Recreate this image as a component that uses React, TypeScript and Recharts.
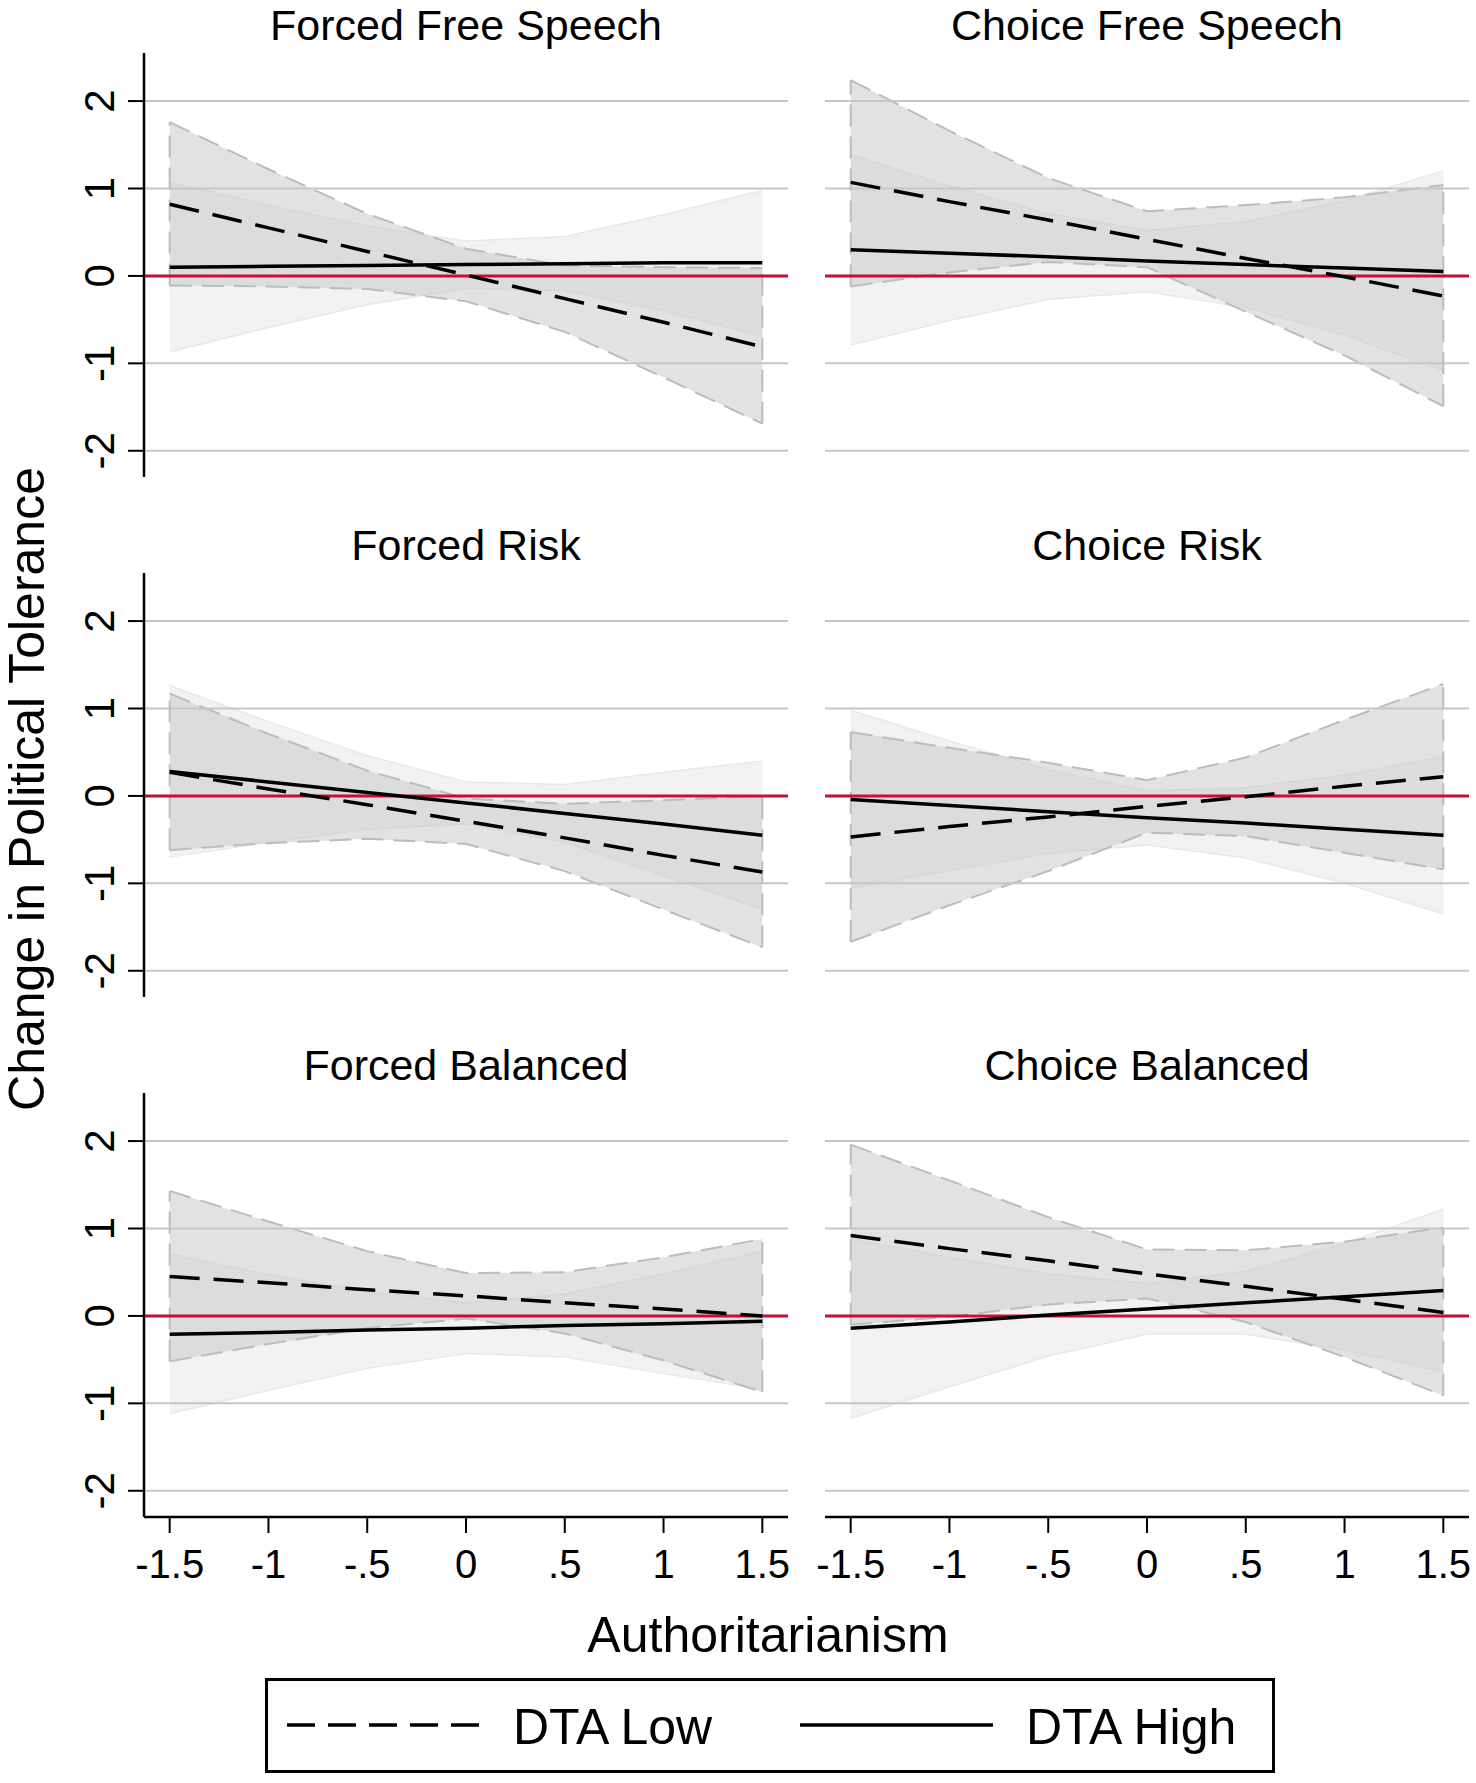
import React from "react";
import { ComposedChart, Area, Line, XAxis, YAxis, ReferenceLine } from "recharts";

// marginal effects, at authoritarianism = -1.5 ... 1.5
const X_VALUES = [-1.5, -1, -0.5, 0, 0.5, 1, 1.5];
const X_TICK_LABELS = ["-1.5", "-1", "-.5", "0", ".5", "1", "1.5"];
const Y_TICKS = [-2, -1, 0, 1, 2];
const Y_TICK_LABELS = ["-2", "-1", "0", "1", "2"];

const PANEL_TITLES = [
  "Forced Free Speech",
  "Choice Free Speech",
  "Forced Risk",
  "Choice Risk",
  "Forced Balanced",
  "Choice Balanced",
];

const forcedSpeechLow = {
  mean: [0.82, 0.55, 0.28, 0.01, -0.26, -0.53, -0.81],
  lo: [-0.11, -0.12, -0.15, -0.29, -0.64, -1.16, -1.69],
  hi: [1.76, 1.22, 0.71, 0.31, 0.12, 0.1, 0.09],
};
const forcedSpeechHigh = {
  mean: [0.1, 0.11, 0.12, 0.13, 0.14, 0.15, 0.15],
  lo: [-0.87, -0.59, -0.33, -0.14, -0.17, -0.4, -0.69],
  hi: [1.07, 0.81, 0.57, 0.4, 0.45, 0.7, 0.98],
};

const choiceSpeechLow = {
  mean: [1.07, 0.85, 0.64, 0.42, 0.2, -0.01, -0.23],
  lo: [-0.12, 0.04, 0.16, 0.1, -0.41, -0.91, -1.49],
  hi: [2.24, 1.66, 1.12, 0.74, 0.81, 0.9, 1.04],
};
const choiceSpeechHigh = {
  mean: [0.3, 0.26, 0.22, 0.17, 0.13, 0.09, 0.05],
  lo: [-0.79, -0.51, -0.27, -0.18, -0.36, -0.68, -1.08],
  hi: [1.39, 1.03, 0.71, 0.52, 0.62, 0.86, 1.2],
};

const forcedRiskLow = {
  mean: [0.27, 0.08, -0.1, -0.29, -0.48, -0.68, -0.87],
  lo: [-0.62, -0.54, -0.49, -0.55, -0.86, -1.3, -1.73],
  hi: [1.17, 0.71, 0.29, -0.03, -0.09, -0.05, 0.0],
};
const forcedRiskHigh = {
  mean: [0.28, 0.16, 0.04, -0.08, -0.2, -0.32, -0.45],
  lo: [-0.7, -0.53, -0.38, -0.32, -0.53, -0.91, -1.3],
  hi: [1.26, 0.85, 0.46, 0.16, 0.13, 0.27, 0.4],
};

const choiceRiskLow = {
  mean: [-0.47, -0.35, -0.24, -0.12, -0.01, 0.11, 0.22],
  lo: [-1.67, -1.25, -0.86, -0.42, -0.46, -0.65, -0.84],
  hi: [0.73, 0.55, 0.38, 0.18, 0.44, 0.87, 1.28],
};
const choiceRiskHigh = {
  mean: [-0.04, -0.11, -0.18, -0.25, -0.31, -0.38, -0.45],
  lo: [-1.06, -0.85, -0.66, -0.56, -0.71, -1.0, -1.35],
  hi: [0.98, 0.63, 0.3, 0.06, 0.09, 0.24, 0.45],
};

const forcedBalancedLow = {
  mean: [0.45, 0.38, 0.3, 0.23, 0.15, 0.08, 0.0],
  lo: [-0.52, -0.32, -0.14, -0.03, -0.2, -0.51, -0.87],
  hi: [1.43, 1.08, 0.74, 0.49, 0.5, 0.67, 0.88],
};
const forcedBalancedHigh = {
  mean: [-0.21, -0.19, -0.16, -0.14, -0.11, -0.09, -0.06],
  lo: [-1.12, -0.85, -0.6, -0.43, -0.47, -0.66, -0.84],
  hi: [0.71, 0.47, 0.28, 0.15, 0.25, 0.48, 0.74],
};

const choiceBalancedLow = {
  mean: [0.92, 0.77, 0.63, 0.48, 0.34, 0.19, 0.04],
  lo: [-0.1, -0.01, 0.13, 0.2, -0.07, -0.47, -0.91],
  hi: [1.96, 1.55, 1.13, 0.76, 0.75, 0.85, 1.01],
};
const choiceBalancedHigh = {
  mean: [-0.14, -0.07, 0.01, 0.08, 0.15, 0.22, 0.29],
  lo: [-1.17, -0.81, -0.46, -0.21, -0.21, -0.39, -0.64],
  hi: [0.88, 0.67, 0.48, 0.37, 0.51, 0.83, 1.22],
};

const PANELS = [
  [forcedSpeechLow, forcedSpeechHigh],
  [choiceSpeechLow, choiceSpeechHigh],
  [forcedRiskLow, forcedRiskHigh],
  [choiceRiskLow, choiceRiskHigh],
  [forcedBalancedLow, forcedBalancedHigh],
  [choiceBalancedLow, choiceBalancedHigh],
];

const FONT = '"Liberation Sans", Arial, Helvetica, sans-serif';
const RED = "#c8102e";
const GRID = "#c6c6c6";
const CI_EDGE = "#b6bfbf";
const X_DOMAIN = [-1.63, 1.63];
const Y_DOMAIN = [-2.3, 2.55];

type Series = { mean: number[]; lo: number[]; hi: number[] };

function buildRows(low: Series, high: Series) {
  return X_VALUES.map((x, i) => ({
    x,
    lowMean: low.mean[i],
    lowBand: [low.lo[i], low.hi[i]],
    highMean: high.mean[i],
    highBand: [high.lo[i], high.hi[i]],
  }));
}

function XTick(props: any) {
  const { x, y, index } = props;
  return (
    <text x={x} y={y + 45} textAnchor="middle" fontSize={40} fontFamily={FONT} fill="#000">
      {X_TICK_LABELS[index]}
    </text>
  );
}

function YTick(props: any) {
  const { x, y, index } = props;
  const bx = x - 14;
  return (
    <text
      x={bx}
      y={y}
      transform={`rotate(-90 ${bx} ${y})`}
      textAnchor="middle"
      fontSize={42}
      fontFamily={FONT}
      fill="#000"
    >
      {Y_TICK_LABELS[index]}
    </text>
  );
}

interface PanelProps {
  low: Series;
  high: Series;
  row: number;
  col: number;
}

function Panel({ low, high, row, col }: PanelProps) {
  const data = buildRows(low, high);
  const isLeft = col === 0;
  const isBottom = row === 2;
  const last = X_VALUES.length - 1;
  const x0 = X_VALUES[0];
  const x1 = X_VALUES[last];

  // left column: plot 144..788, right column: plot 825..1469
  // extra side margin keeps the edge tick labels inside the svg
  const margin = isLeft
    ? { top: 0, right: 30, bottom: 0, left: 0 }
    : { top: 0, right: 6, bottom: 0, left: 30 };

  return (
    <div style={{ position: "absolute", left: isLeft ? 0 : 795, top: 53 + row * 520 }}>
      <ComposedChart
        width={isLeft ? 818 : 680}
        height={isBottom ? 514 : 424}
        data={data}
        margin={margin}
      >
        <XAxis
          type="number"
          dataKey="x"
          domain={X_DOMAIN}
          ticks={X_VALUES}
          interval={0}
          allowDataOverflow
          hide={!isBottom}
          height={90}
          tickSize={16}
          tickMargin={0}
          axisLine={{ stroke: "#000", strokeWidth: 2.5 }}
          tickLine={{ stroke: "#000", strokeWidth: 2 }}
          tick={<XTick />}
        />
        <YAxis
          type="number"
          domain={Y_DOMAIN}
          ticks={Y_TICKS}
          interval={0}
          allowDataOverflow
          hide={!isLeft}
          width={144}
          tickSize={16}
          tickMargin={0}
          axisLine={{ stroke: "#000", strokeWidth: 2.5 }}
          tickLine={{ stroke: "#000", strokeWidth: 2 }}
          tick={<YTick />}
        />

        {/* gridlines */}
        {Y_TICKS.filter((v) => v !== 0).map((v) => (
          <ReferenceLine key={v} y={v} stroke={GRID} strokeWidth={2} />
        ))}

        {/* DTA High CI (light) */}
        <Area
          dataKey="highBand"
          type="linear"
          fill="#bdbdbd"
          fillOpacity={0.2}
          stroke="#e6eaea"
          strokeWidth={1.5}
          dot={false}
          activeDot={false}
          isAnimationActive={false}
        />
        {/* DTA Low CI (darker, dashed outline) */}
        <Area
          dataKey="lowBand"
          type="linear"
          fill="#c6c6c6"
          fillOpacity={0.5}
          stroke={CI_EDGE}
          strokeWidth={2}
          strokeDasharray="22 10"
          dot={false}
          activeDot={false}
          isAnimationActive={false}
        />
        <ReferenceLine
          segment={[
            { x: x0, y: low.lo[0] },
            { x: x0, y: low.hi[0] },
          ]}
          stroke={CI_EDGE}
          strokeWidth={2}
          strokeDasharray="22 10"
        />
        <ReferenceLine
          segment={[
            { x: x1, y: low.lo[last] },
            { x: x1, y: low.hi[last] },
          ]}
          stroke={CI_EDGE}
          strokeWidth={2}
          strokeDasharray="22 10"
        />

        <ReferenceLine y={0} stroke={RED} strokeWidth={3} />

        <Line
          dataKey="lowMean"
          type="linear"
          stroke="#000"
          strokeWidth={3.5}
          strokeDasharray="30 14"
          dot={false}
          activeDot={false}
          isAnimationActive={false}
        />
        <Line
          dataKey="highMean"
          type="linear"
          stroke="#000"
          strokeWidth={3.5}
          dot={false}
          activeDot={false}
          isAnimationActive={false}
        />
      </ComposedChart>
    </div>
  );
}

export default function App() {
  return (
    <div
      style={{
        position: "absolute",
        left: 0,
        top: 0,
        width: 1476,
        height: 1783,
        background: "#fff",
        fontFamily: FONT,
      }}
    >
      {PANELS.map(([low, high], i) => (
        <Panel key={i} low={low} high={high} row={Math.floor(i / 2)} col={i % 2} />
      ))}

      <svg
        width={1476}
        height={1783}
        style={{ position: "absolute", left: 0, top: 0, pointerEvents: "none" }}
      >
        {PANEL_TITLES.map((t, i) => (
          <text
            key={t}
            x={i % 2 === 0 ? 466 : 1147}
            y={40 + Math.floor(i / 2) * 520}
            textAnchor="middle"
            fontSize={43}
            fontFamily={FONT}
          >
            {t}
          </text>
        ))}

        <text
          x={44}
          y={789}
          transform="rotate(-90 44 789)"
          textAnchor="middle"
          fontSize={50}
          fontFamily={FONT}
        >
          Change in Political Tolerance
        </text>

        <text x={768} y={1652} textAnchor="middle" fontSize={50} fontFamily={FONT}>
          Authoritarianism
        </text>

        {/* legend */}
        <rect x={266.5} y={1679.5} width={1007} height={92} fill="none" stroke="#000" strokeWidth={3} />
        <line x1={287} y1={1725} x2={480} y2={1725} stroke="#000" strokeWidth={3.5} strokeDasharray="28 13" />
        <text x={513} y={1744} fontSize={50} fontFamily={FONT}>
          DTA Low
        </text>
        <line x1={800} y1={1725} x2={993} y2={1725} stroke="#000" strokeWidth={3.5} />
        <text x={1026} y={1744} fontSize={50} fontFamily={FONT}>
          DTA High
        </text>
      </svg>
    </div>
  );
}
